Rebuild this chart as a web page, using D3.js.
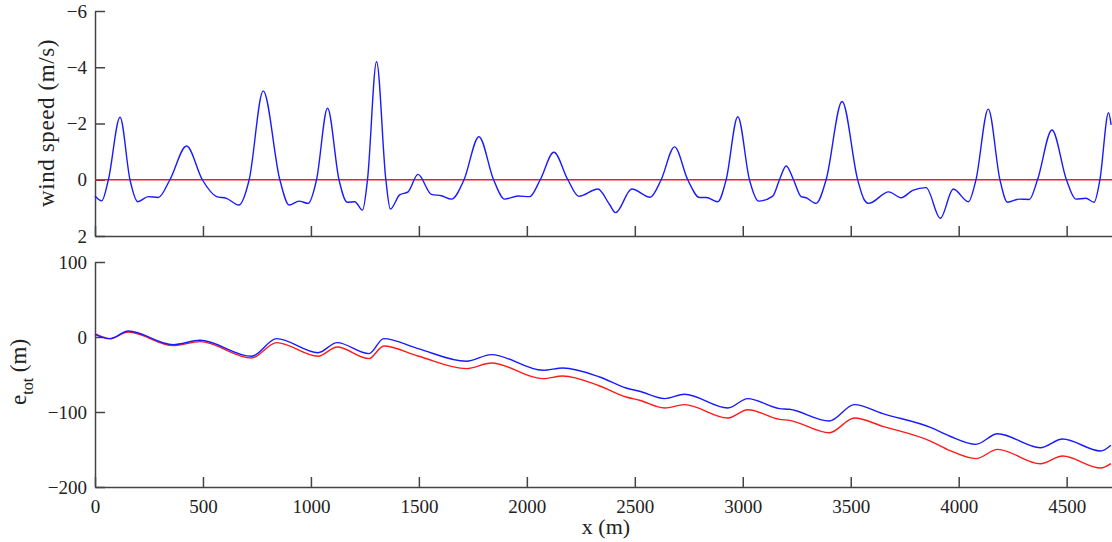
<!DOCTYPE html>
<html lang="en">
<head>
<meta charset="UTF-8">
<script src="https://d3js.org/d3.v7.min.js"></script>
<title>wind speed and e_tot</title>
<style>
  body { margin: 0; background: #fff; }
</style>
</head>
<body>
<svg id="svg1" width="1112" height="542"></svg>
<script>

// top panel: wind speed along x
const windX = [0, 31, 62, 116, 162, 198, 247, 293, 347, 424, 497, 563, 609, 666, 714, 779, 856, 899, 945, 987,
  1026, 1077, 1130, 1168, 1203, 1239, 1262, 1304, 1347, 1368, 1411, 1450, 1496, 1558, 1604, 1651, 1709, 1778, 1846, 1897,
  1959, 2013, 2062, 2125, 2190, 2241, 2329, 2383, 2411, 2486, 2571, 2622, 2684, 2745, 2800, 2831, 2884, 2923, 2977, 3031,
  3073, 3139, 3170, 3201, 3235, 3270, 3293, 3340, 3386, 3460, 3532, 3563, 3583, 3676, 3733, 3787, 3849, 3915, 3975, 4045,
  4080, 4137, 4191, 4226, 4280, 4327, 4365, 4432, 4499, 4543, 4589, 4627, 4654, 4694, 4706]
const windV = [0.58, 0.75, 0, -2.22, 0, 0.78, 0.6, 0.63, 0, -1.2, 0, 0.6, 0.66, 0.9, 0, -3.16, 0, 0.9, 0.76, 0.84,
  0, -2.54, 0, 0.8, 0.78, 1.08, 0, -4.2, 0, 1.04, 0.54, 0.43, -0.19, 0.52, 0.57, 0.69, 0, -1.53, 0, 0.69,
  0.58, 0.6, 0, -0.98, 0, 0.59, 0.33, 0.88, 1.17, 0.33, 0.62, 0, -1.17, 0, 0.63, 0.63, 0.78, 0, -2.24, 0,
  0.76, 0.58, 0, -0.49, 0, 0.6, 0.64, 0.84, 0, -2.78, 0, 0.72, 0.84, 0.43, 0.64, 0.38, 0.28, 1.37, 0.33, 0.78,
  0, -2.51, 0, 0.8, 0.69, 0.7, 0, -1.77, 0, 0.69, 0.66, 0.8, 0, -2.38, -1.95]
const zeroLine = [0, 4710]

// bottom panel: e_tot, blue and red runs
const etotX = [0, 69, 154, 362, 486, 725, 841, 1033, 1121, 1269, 1337, 1496, 1720, 1836, 2074, 2167, 2337, 2460, 2522, 2638,
  2730, 2931, 3023, 3170, 3216, 3401, 3517, 3648, 3872, 3957, 4080, 4180, 4378, 4481, 4658, 4705]
const etotBlue = [3.6, -2.2, 8, -10.2, -4.4, -25.7, -2.2, -20.9, -7.5, -22.2, -2.2, -15.5, -32.4, -23.5, -44.4, -41.3, -53.3, -68, -72.4, -82.1,
  -76.4, -94.7, -82.1, -95.5, -96.4, -112, -90.2, -102.2, -120.9, -132, -143.1, -128.9, -147.6, -136, -152, -144.4]
const etotRed = [4.5, -2.2, 6.7, -11.5, -6.1, -28, -7.5, -25.7, -13.3, -28.8, -12, -25.3, -42.1, -34.7, -55.5, -52, -65.3, -80, -84.4, -94.7,
  -90.2, -108, -96.9, -109.8, -111.1, -127.6, -108, -119.1, -139.1, -151.1, -162.2, -149.8, -168.9, -158.7, -174.7, -168.9]

const xTicks = [0, 500, 1000, 1500, 2000, 2500, 3000, 3500, 4000, 4500]
const windTicks = [-6, -4, -2, 0, 2]
const etotTicks = [100, 0, -100, -200]

const svg = d3.select("#svg1")
const axisCol = "#444"
const serif = "'Liberation Serif', 'Times New Roman', Times, serif"

let x = d3.scaleLinear().domain([0, 4710]).range([95, 1112])
let yW = d3.scaleLinear().domain([-6, 2]).range([11, 236])
let yE = d3.scaleLinear().domain([100, -200]).range([262, 487])

const fmt = d => d < 0 ? "\u2212" + Math.abs(d) : "" + d

function styleAxis(g) {
    g.attr("font-family", serif)
    g.select(".domain").attr("stroke", axisCol).attr("stroke-width", 1.5)
    g.selectAll(".tick line").attr("stroke", axisCol).attr("stroke-width", 1.5)
    g.selectAll(".tick text").style("font-family", serif).style("font-size", "19px").attr("fill", "#222")
}

// ---- top panel
svg.append("g").attr("transform", "translate(0,236)")
    .call(d3.axisBottom(x).tickValues(xTicks).tickSizeInner(-10).tickSizeOuter(0).tickFormat(""))
    .call(styleAxis)
svg.append("g").attr("transform", "translate(95,0)")
    .call(d3.axisLeft(yW).tickValues(windTicks).tickSizeInner(-10).tickSizeOuter(0).tickPadding(8).tickFormat(fmt))
    .call(styleAxis)

svg.append("path")
    .datum(zeroLine)
    .attr("fill", "none").attr("stroke", "#ff1a1a").attr("stroke-width", 1.3)
    .attr("d", d3.line().x(d => x(d)).y(yW(0)))

const windData = windX.map((d, i) => [d, windV[i]])
svg.append("path")
    .datum(windData)
    .attr("fill", "none").attr("stroke", "#1a1aff").attr("stroke-width", 1.4)
    .attr("d", d3.line().curve(d3.curveMonotoneX).x(d => x(d[0])).y(d => yW(d[1])))

svg.append("text")
    .attr("transform", "translate(54,123) rotate(-90)")
    .attr("text-anchor", "middle")
    .style("font-family", serif).style("font-size", "23px").style("letter-spacing", "0.6px").attr("fill", "#222")
    .text("wind speed (m/s)")

// ---- bottom panel
svg.append("g").attr("transform", "translate(0,487)")
    .call(d3.axisBottom(x).tickValues(xTicks).tickSizeInner(-10).tickSizeOuter(0).tickPadding(13).tickFormat(d => d))
    .call(styleAxis)
svg.append("g").attr("transform", "translate(95,0)")
    .call(d3.axisLeft(yE).tickValues(etotTicks).tickSizeInner(-10).tickSizeOuter(0).tickPadding(8).tickFormat(fmt))
    .call(styleAxis)

const lineE = d3.line().curve(d3.curveMonotoneX).x((d, i) => x(etotX[i])).y(d => yE(d))
svg.append("path").datum(etotRed)
    .attr("fill", "none").attr("stroke", "#ff1a1a").attr("stroke-width", 1.4)
    .attr("d", lineE)
svg.append("path").datum(etotBlue)
    .attr("fill", "none").attr("stroke", "#1a1aff").attr("stroke-width", 1.4)
    .attr("d", lineE)

let eLab = svg.append("text")
    .attr("transform", "translate(26,372) rotate(-90)")
    .attr("text-anchor", "middle")
    .style("font-family", serif).style("font-size", "23px").attr("fill", "#222")
eLab.append("tspan").text("e")
eLab.append("tspan").attr("dy", 7).style("font-size", "16px").text("tot")
eLab.append("tspan").attr("dy", -7).text(" (m)")

svg.append("text")
    .attr("x", 606).attr("y", 534)
    .attr("text-anchor", "middle")
    .style("font-family", serif).style("font-size", "22px").attr("fill", "#222")
    .text("x (m)")

</script>
</body>
</html>
